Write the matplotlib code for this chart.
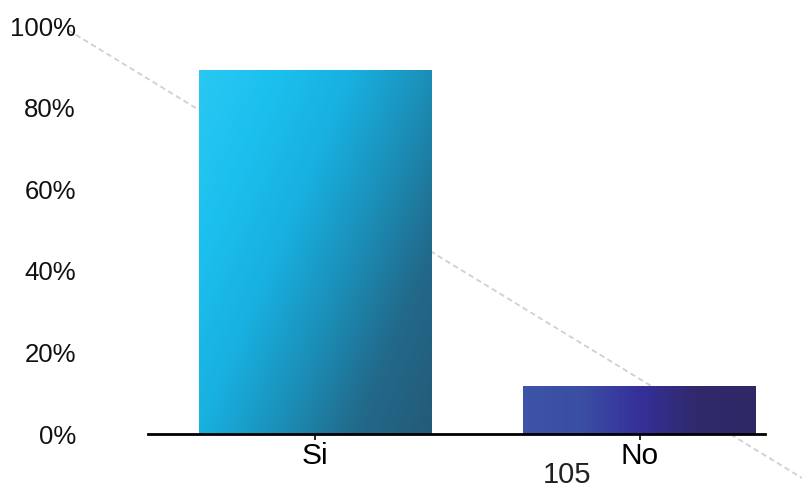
import numpy as np
import matplotlib.pyplot as plt
from matplotlib.colors import LinearSegmentedColormap
from matplotlib.lines import Line2D

plt.rcParams['font.family'] = ['Liberation Sans', 'DejaVu Sans']

categories = ["Si", "No"]
values = [89.3, 11.7]
yticks = [0, 20, 40, 60, 80, 100]
ytick_labels = ["0%", "20%", "40%", "60%", "80%", "100%"]
page_number = "105"

W, H = 802, 491
fig = plt.figure(figsize=(W / 100, H / 100), dpi=100)
fig.patch.set_facecolor("white")

# axes placed in pixel terms: baseline at y=434, 100% at y=26
left, right, bottom, top = 148, 765, 434, 26
ax = fig.add_axes([left / W, 1 - bottom / H, (right - left) / W, (bottom - top) / H])
ax.patch.set_visible(False)

# faint dashed diagonal running behind the plot
diag = Line2D([68 / W, 1.0], [1 - 30 / H, 1 - 478 / H], transform=fig.transFigure,
              color="#d0d0d0", linewidth=1.3, linestyle=(0, (3, 2)), zorder=-1)
fig.lines.append(diag)

bar_width = 0.717
bars = ax.bar(range(len(categories)), values, width=bar_width, color="none",
              edgecolor="none", zorder=2)

# gradient fills clipped to each bar
si_cmap = LinearSegmentedColormap.from_list(
    "si", ["#2ac8f3", "#1cc0ee", "#18b0e0", "#1b8fb8", "#22698a", "#245a78"])
no_cmap = LinearSegmentedColormap.from_list(
    "no", ["#3d54a9", "#3a4ea3", "#35309a", "#30296b", "#2e2866"])

n = 200
gx, gy = np.meshgrid(np.linspace(0, 1, n), np.linspace(0, 1, n))
si_grad = np.clip(0.6 * gx + 0.4 * gy, 0, 1)
no_grad = gx

for bar, grad, cmap in zip(bars, [si_grad, no_grad], [si_cmap, no_cmap]):
    x0 = bar.get_x()
    x1 = x0 + bar.get_width()
    h = bar.get_height()
    # row 0 of the gradient sits at the top of the bar
    im = ax.imshow(grad, cmap=cmap, extent=[x0, x1, 0, h], origin="upper",
                   aspect="auto", zorder=2, interpolation="bilinear")
    im.set_clip_path(bar)

ax.set_xlim(-0.514, 1.385)
ax.set_ylim(0, 100)

for s in ["left", "right", "top"]:
    ax.spines[s].set_visible(False)
ax.spines["bottom"].set_linewidth(2)
ax.spines["bottom"].set_color("black")
ax.spines["bottom"].set_zorder(3)

ax.set_xticks(range(len(categories)))
ax.set_xticklabels(categories, fontsize=21.5)
ax.tick_params(axis="x", direction="out", length=4, width=1.2, pad=2, colors="black")

ax.set_yticks(yticks)
ax.set_yticklabels(ytick_labels, fontsize=18.5, color="#111111")
ax.tick_params(axis="y", length=0, pad=52)

fig.text(567 / W, 1 - 483 / H, page_number, fontsize=21, color="#222222",
         ha="center", va="baseline")

fig.savefig("out.png", dpi=100)
